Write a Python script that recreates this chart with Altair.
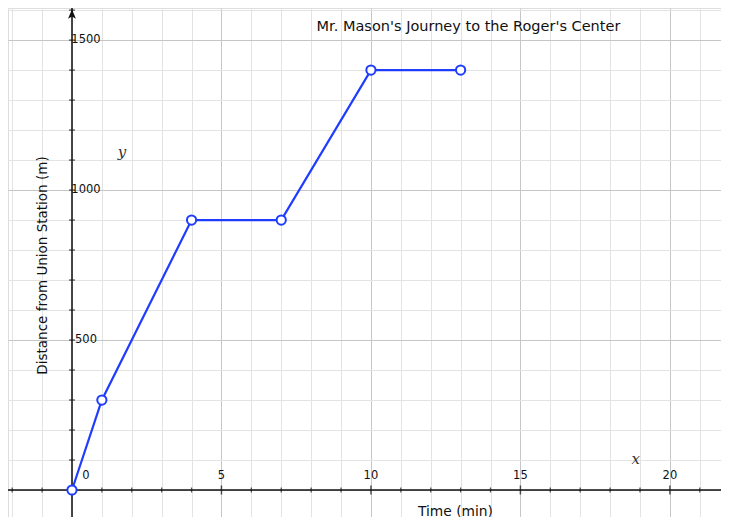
import altair as alt
import pandas as pd

# ---- data ----
time_min = [0, 1, 4, 7, 10, 13]
distance_m = [0, 300, 900, 900, 1400, 1400]
x_tick_labels = [0, 5, 10, 15, 20]
y_tick_labels = [500, 1000, 1500]
x_grid = list(range(-2, 22))
y_grid = list(range(0, 1700, 100))
x_minor_ticks = [v for v in range(-2, 22) if v != 0]
y_minor_ticks = [v for v in range(100, 1700, 100)]

X_DOMAIN = [-2.14, 21.71]
Y_DOMAIN = [-90, 1607]
W, H = 713, 509
BLUE = "#1f3cff"
FONT = "DejaVu Sans"

df = pd.DataFrame({"t": time_min, "d": distance_m})
xs = alt.Scale(domain=X_DOMAIN, nice=False, zero=False)
ys = alt.Scale(domain=Y_DOMAIN, nice=False, zero=False)

x_axis = alt.Axis(
    values=x_grid, grid=True, tickCount=len(x_grid),
    gridColor={"condition": {"test": "datum.value % 5 === 0", "value": "#c6c6c6"}, "value": "#e3e3e3"},
    gridWidth=1, domain=False, ticks=False, labels=False,
    title="Time (min)", titleFont=FONT, titleFontSize=13.8, titleFontWeight="normal",
    titleColor="#111", titleX=447, titleY=-6, titleAlign="center", titleBaseline="middle",
)
y_axis = alt.Axis(
    values=y_grid, grid=True, tickCount=len(y_grid),
    gridColor={"condition": {"test": "datum.value % 500 === 0", "value": "#c6c6c6"}, "value": "#e3e3e3"},
    gridWidth=1, domain=False, ticks=False, labels=False,
    title="Distance from Union Station (m)", titleFont=FONT, titleFontSize=13.5,
    titleFontWeight="normal", titleColor="#111", titleX=34, titleY=257,
    titleAlign="center", titleBaseline="middle", titleAngle=-90,
)

line = alt.Chart(df).mark_line(color=BLUE, strokeWidth=2.2).encode(
    x=alt.X("t:Q", scale=xs, axis=x_axis),
    y=alt.Y("d:Q", scale=ys, axis=y_axis),
)
points = alt.Chart(df).mark_point(
    shape="circle", filled=True, fill="white", stroke=BLUE, strokeWidth=2, size=85, opacity=1
).encode(x="t:Q", y="d:Q")

one = alt.Data(values=[{}])
x_axis_line = alt.Chart(one).mark_rule(color="#111", strokeWidth=1.5).encode(y=alt.datum(0))
y_axis_line = alt.Chart(one).mark_rule(color="#111", strokeWidth=1.5).encode(x=alt.datum(0))
arrow = alt.Chart(one).mark_point(
    shape="M0,-1L0.75,0.8L0,0.35L-0.75,0.8Z", filled=True, color="#111", size=110, opacity=1
).encode(x=alt.datum(0), y=alt.datum(1585))

xt = pd.DataFrame({"v": x_minor_ticks, "major": [v % 5 == 0 for v in x_minor_ticks]})
yt = pd.DataFrame({"v": y_minor_ticks})
x_ticks = alt.Chart(xt).transform_filter("!datum.major").mark_tick(
    orient="vertical", size=5, thickness=1.3, color="#111").encode(x="v:Q", y=alt.datum(0))
x_ticks_major = alt.Chart(xt).transform_filter("datum.major").mark_tick(
    orient="vertical", size=9, thickness=1.5, color="#111").encode(x="v:Q", y=alt.datum(0))
y_ticks = alt.Chart(yt).mark_tick(orient="horizontal", size=6, thickness=1.3, color="#111").encode(
    y="v:Q", x=alt.datum(0))

xl = pd.DataFrame({"v": x_tick_labels, "s": [str(v) for v in x_tick_labels]})
yl = pd.DataFrame({"v": y_tick_labels, "s": [str(v) for v in y_tick_labels]})
x_labels = alt.Chart(xl).transform_filter("datum.v !== 0").mark_text(
    font=FONT, fontSize=11.5, color="#111", dy=-14, align="center", baseline="middle"
).encode(x="v:Q", y=alt.datum(0), text="s:N")
zero_label = alt.Chart(xl).transform_filter("datum.v === 0").mark_text(
    font=FONT, fontSize=11.5, color="#111", dy=-14, dx=14, align="center", baseline="middle"
).encode(x="v:Q", y=alt.datum(0), text="s:N")
y_labels = alt.Chart(yl).mark_text(
    font=FONT, fontSize=11.5, color="#111", dx=14, align="center", baseline="middle"
).encode(y="v:Q", x=alt.datum(0), text="s:N")

var_names = pd.DataFrame({"s": ["x", "y"], "px": [18.86, 1.67], "py": [103, 1127]})
var_labels = alt.Chart(var_names).mark_text(
    font="DejaVu Serif", fontStyle="italic", fontSize=15, color="#333",
    align="center", baseline="middle"
).encode(x="px:Q", y="py:Q", text="s:N")

chart = alt.layer(
    x_axis_line, y_axis_line, x_ticks, x_ticks_major, y_ticks, arrow,
    line, points, x_labels, zero_label, y_labels, var_labels,
).properties(
    width=W, height=H, padding=0, autosize="none",
    title=alt.TitleParams(
        text="Mr. Mason's Journey to the Roger's Center", anchor="middle", frame="group",
        dx=104, offset=-34, baseline="middle", font=FONT, fontSize=14.5,
        fontWeight="normal", color="#111",
    ),
).configure_view(strokeWidth=0).configure(background="white")

chart.save("out.html", embed_options={"renderer": "svg", "actions": False})
